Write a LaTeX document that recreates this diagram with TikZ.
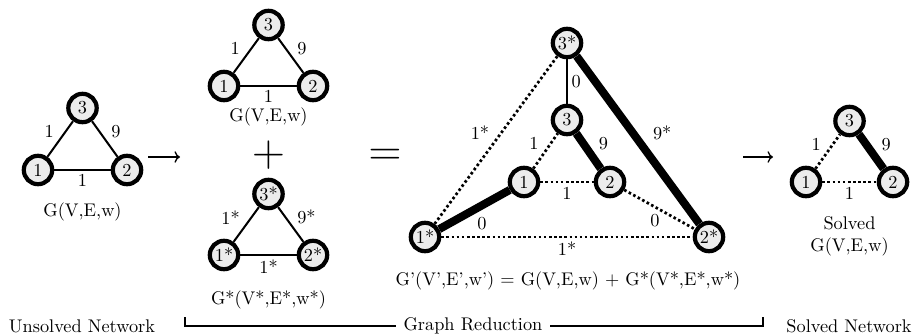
\documentclass[tikz,border=0pt]{standalone}
\usepackage{tikz}
\usetikzlibrary{arrows.meta, positioning}

\begin{document}
\begin{tikzpicture}[
    x=0.546pt, y=-0.546pt,
    vertex/.style={
        circle,
        draw=black,
        line width=2.3pt,
        fill=gray!15,
        minimum size=15.5pt,
        inner sep=0pt
    },
    wleft/.style={
        left,
        inner sep=3pt,
        yshift=4pt
    },
    wright/.style={
        right,
        inner sep=3pt,
        yshift=4pt
    },
    wbelow/.style={
        below,
        inner sep=2pt
    },
    plainedge/.style={
        line width=1.1pt
    },
    heavyedge/.style={
        line width=4.4pt
    },
    dottededge/.style={
        line width=1.5pt,
        dash pattern=on 1.4pt off 1.4pt
    },
    arrow/.style={
        -{To[length=3pt]},
        line width=0.7pt
    },
    caption/.style={
        align=center
    }
]
\useasboundingbox (0,0) rectangle (916,336);

% Unsolved network
\node[vertex] (a1) at (38,170) {1};
\node[vertex] (a2) at (127,170) {2};
\node[vertex] (a3) at (82.5,108) {3};
\draw[plainedge] (a1) -- node[wleft] {1} (a3);
\draw[plainedge] (a3) -- node[wright] {9} (a2);
\draw[plainedge] (a1) -- node[wbelow] {1} (a2);
\node[caption] (capA) at (82.5,212) {G(V,E,w)};

\coordinate (arrA1) at (148,157);
\coordinate (arrA2) at (180,157);
\draw[arrow] (arrA1) -- (arrA2);

% G(V,E,w)
\node[vertex] (b1) at (224,86) {1};
\node[vertex] (b2) at (313,86) {2};
\node[vertex] (b3) at (268.5,25) {3};
\draw[plainedge] (b1) -- node[wleft] {1} (b3);
\draw[plainedge] (b3) -- node[wright] {9} (b2);
\draw[plainedge] (b1) -- node[wbelow] {1} (b2);
\node[caption] (capB) at (268.5,117) {G(V,E,w)};

\node[font=\Huge] (plus) at (268.5,155) {$+$};

% G*(V*,E*,w*)
\node[vertex] (c1) at (224,255) {1*};
\node[vertex] (c2) at (313,255) {2*};
\node[vertex] (c3) at (268.5,194) {3*};
\draw[plainedge] (c1) -- node[wleft] {1*} (c3);
\draw[plainedge] (c3) -- node[wright] {9*} (c2);
\draw[plainedge] (c1) -- node[wbelow] {1*} (c2);
\node[caption] (capC) at (268.5,300) {G*(V*,E*,w*)};

\node[font=\Huge] (equal) at (385,157) {$=$};

% Reduced graph
\node[vertex] (d3s) at (567,43) {3*};
\node[vertex] (d3) at (567,120) {3};
\node[vertex] (d1) at (524,182) {1};
\node[vertex] (d2) at (610,182) {2};
\node[vertex] (d1s) at (425,237) {1*};
\node[vertex] (d2s) at (709,237) {2*};
\draw[plainedge] (d3s) -- node[right, inner sep=2pt] {0} (d3);
\draw[dottededge] (d1s) -- node[wleft] {1*} (d3s);
\draw[heavyedge] (d3s) -- node[wright, inner sep=6pt] {9*} (d2s);
\draw[dottededge] (d1) -- node[wleft] {1} (d3);
\draw[heavyedge] (d3) -- node[wright, inner sep=3.5pt] {9} (d2);
\draw[dottededge] (d1) -- node[wbelow] {1} (d2);
\draw[heavyedge] (d1s) -- node[wbelow, xshift=4pt] {0} (d1);
\draw[dottededge] (d2) -- node[wbelow, xshift=-2.5pt] {0} (d2s);
\draw[dottededge] (d1s) -- node[wbelow] {1*} (d2s);
\node[caption] (capD) at (568,281) {G'(V',E',w') = G(V,E,w) + G*(V*,E*,w*)};

\coordinate (arrE1) at (743,157);
\coordinate (arrE2) at (773,157);
\draw[arrow] (arrE1) -- (arrE2);

% Solved network
\node[vertex] (e1) at (806,182) {1};
\node[vertex] (e2) at (893,182) {2};
\node[vertex] (e3) at (849.5,121) {3};
\draw[dottededge] (e1) -- node[wleft] {1} (e3);
\draw[heavyedge] (e3) -- node[wright, inner sep=3.5pt] {9} (e2);
\draw[dottededge] (e1) -- node[wbelow] {1} (e2);
\node[caption] (capE) at (849.5,236) {Solved\\G(V,E,w)};

% Bottom row
\node (unsolved) at (82,326) {Unsolved Network};
\node[inner sep=4pt] (reduce) at (473,326) {Graph Reduction};
\node (solved) at (849,326) {Solved Network};
\coordinate (brkL) at (185,317);
\coordinate (brkR) at (763,317);
\draw[plainedge] (brkL) |- (reduce.west);
\draw[plainedge] (reduce.east) -| (brkR);

\end{tikzpicture}
\end{document}
